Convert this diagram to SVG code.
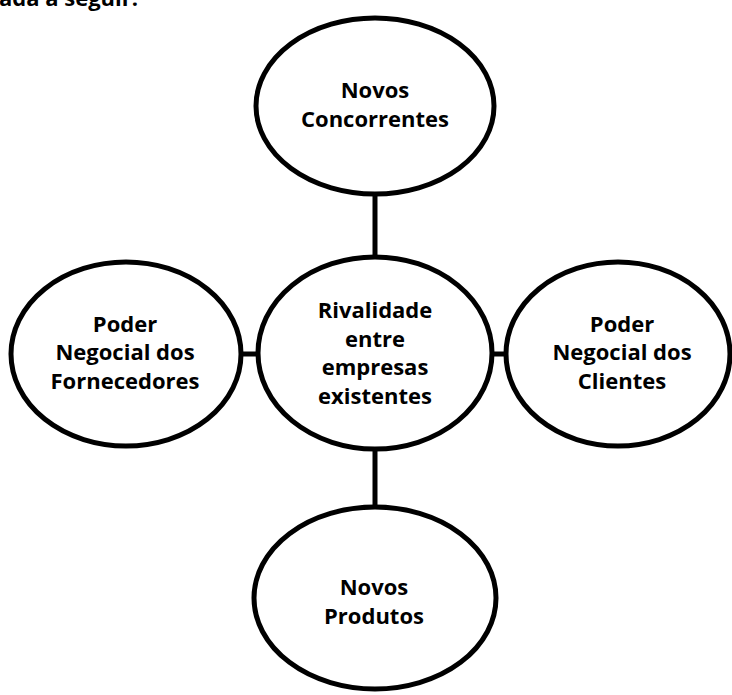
<svg xmlns="http://www.w3.org/2000/svg" width="732" height="695" viewBox="0 0 732 695">
<style>
.node{fill:#fff;stroke:#000;stroke-width:5}
.conn{stroke:#000;stroke-width:5;fill:none}
.t{font-family:"Open Sans","Liberation Sans",sans-serif;font-weight:bold;font-size:22px;fill:#000;text-anchor:middle}
</style>
<rect width="732" height="695" fill="#fff"/>
<text x="-1" y="6" class="t" style="text-anchor:start">ada a seguir:</text>
<g id="connectors">
<line class="conn" x1="375" y1="194" x2="375" y2="258"/>
<line class="conn" x1="375" y1="449" x2="375" y2="507"/>
<line class="conn" x1="241" y1="354" x2="258" y2="354"/>
<line class="conn" x1="491" y1="354" x2="506" y2="354"/>
</g>
<g id="novos-concorrentes">
<ellipse class="node" cx="375" cy="106" rx="119" ry="88"/>
<text class="t" x="375" y="98">Novos</text>
<text class="t" x="375" y="127">Concorrentes</text>
</g>
<g id="rivalidade">
<ellipse class="node" cx="375" cy="353" rx="117" ry="96"/>
<text class="t" x="375" y="318">Rivalidade</text>
<text class="t" x="375" y="347">entre</text>
<text class="t" x="375" y="375">empresas</text>
<text class="t" x="375" y="404">existentes</text>
</g>
<g id="fornecedores">
<ellipse class="node" cx="126" cy="354" rx="115" ry="92"/>
<text class="t" x="125" y="332">Poder</text>
<text class="t" x="125" y="360">Negocial dos</text>
<text class="t" x="125" y="389">Fornecedores</text>
</g>
<g id="clientes">
<ellipse class="node" cx="618" cy="354" rx="112" ry="92"/>
<text class="t" x="622" y="332">Poder</text>
<text class="t" x="622" y="360">Negocial dos</text>
<text class="t" x="622" y="389">Clientes</text>
</g>
<g id="novos-produtos">
<ellipse class="node" cx="375" cy="598" rx="121" ry="91"/>
<text class="t" x="374" y="595">Novos</text>
<text class="t" x="374" y="624">Produtos</text>
</g>
</svg>
